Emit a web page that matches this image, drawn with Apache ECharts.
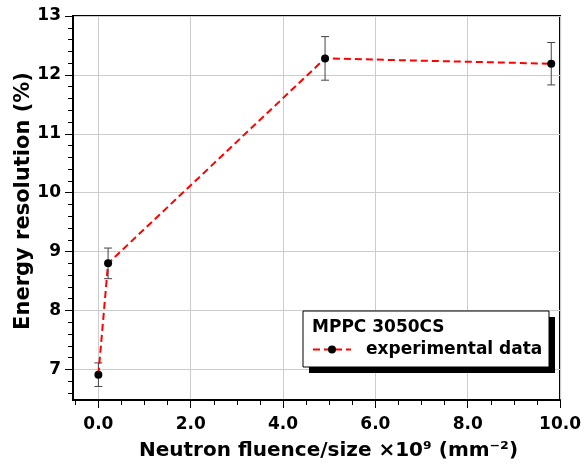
<!DOCTYPE html>
<html><head><meta charset="utf-8">
<script src="https://cdn.jsdelivr.net/npm/echarts@6/dist/echarts.min.js"></script>
<style>html,body{margin:0;padding:0;background:#fff}#c{width:584px;height:466px}</style>
</head><body><div id="c"></div>
<script>
// data
const fluence = [0.0, 0.21, 4.91, 9.81];
const resolution = [6.91, 8.80, 12.28, 12.19];
const errors = [0.20, 0.26, 0.37, 0.36];
const xMajorTicks = [0, 2, 4, 6, 8, 10];
const xMinorTicks = [-0.5, 0.5, 1, 1.5, 2.5, 3, 3.5, 4.5, 5, 5.5, 6.5, 7, 7.5, 8.5, 9, 9.5];
const yMajorTicks = [7, 8, 9, 10, 11, 12, 13];
const yMinorTicks = [6.6, 6.8, 7.2, 7.4, 7.6, 7.8, 8.2, 8.4, 8.6, 8.8, 9.2, 9.4, 9.6, 9.8, 10.2, 10.4, 10.6, 10.8, 11.2, 11.4, 11.6, 11.8, 12.2, 12.4, 12.6, 12.8];
const seriesName = 'experimental data';
const legendTitle = 'MPPC 3050CS';
const xName = 'Neutron fluence/size ×10⁹ (mm⁻²)';
const yName = 'Energy resolution (%)';

const FONT = 'DejaVu Sans';
const xMin = -0.55, xMax = 10.0, yMin = 6.48, yMax = 13.0;

const chart = echarts.init(document.getElementById('c'), null, {renderer: 'canvas'});
const points = fluence.map((x, i) => [x, resolution[i]]);
const errData = fluence.map((x, i) => [x, resolution[i] - errors[i], resolution[i] + errors[i]]);

function hiddenAxis(extra) {
  return Object.assign({
    type: 'value',
    axisLine: {show: false, onZero: false}, splitLine: {show: false},
    axisLabel: {show: false}
  }, extra);
}

const option = {
  animation: false,
  backgroundColor: '#fff',
  grid: {left: 73, right: 22, top: 16, bottom: 65, show: true, borderColor: '#000', borderWidth: 2, backgroundColor: 'transparent'},
  xAxis: [
    {
      type: 'value', min: xMin, max: xMax, splitNumber: 5,
      name: xName, nameLocation: 'middle', nameGap: 41,
      nameTextStyle: {fontFamily: FONT, fontWeight: 'bold', fontSize: 20, color: '#000', padding: [0, 0, 0, 24]},
      axisLine: {show: true, onZero: false, lineStyle: {color: '#000', width: 2}},
      axisTick: {show: false},
      axisLabel: {show: true, customValues: xMajorTicks, formatter: v => v.toFixed(1), fontFamily: FONT, fontWeight: 'bold', fontSize: 17, color: '#000', margin: 16},
      splitLine: {show: true, lineStyle: {color: '#cccccc', width: 1}}
    },
    hiddenAxis({min: xMin, max: xMax, position: 'bottom', axisTick: {show: true, customValues: xMajorTicks, length: 8, lineStyle: {color: '#000', width: 1}}}),
    hiddenAxis({min: xMin, max: xMax, position: 'bottom', axisTick: {show: true, customValues: xMinorTicks, length: 5, lineStyle: {color: '#000', width: 1}}})
  ],
  yAxis: [
    {
      type: 'value', min: yMin, max: yMax, splitNumber: 6,
      axisLine: {show: true, onZero: false, lineStyle: {color: '#000', width: 2}},
      axisTick: {show: false},
      axisLabel: {show: true, customValues: yMajorTicks, formatter: v => String(Math.round(v)), fontFamily: FONT, fontWeight: 'bold', fontSize: 17, color: '#000', margin: 12},
      splitLine: {show: true, lineStyle: {color: '#cccccc', width: 1}}
    },
    hiddenAxis({min: yMin, max: yMax, position: 'left', axisTick: {show: true, customValues: yMajorTicks, length: 8, lineStyle: {color: '#000', width: 1}}}),
    hiddenAxis({min: yMin, max: yMax, position: 'left', axisTick: {show: true, customValues: yMinorTicks, length: 5, lineStyle: {color: '#000', width: 1}}})
  ],
  legend: {
    show: true, left: 312, top: 341, orient: 'vertical', z: 60, padding: 0,
    itemWidth: 38, itemHeight: 10,
    data: [seriesName],
    textStyle: {fontFamily: FONT, fontWeight: 'bold', fontSize: 17, color: '#000', padding: [0, 0, 0, 10]}
  },
  graphic: [
    {type: 'text', x: 24, y: 201, rotation: Math.PI / 2, style: {text: yName, font: 'bold 21px "DejaVu Sans"', fill: '#000', align: 'center', verticalAlign: 'middle'}, z: 10},
    {type: 'rect', shape: {x: 309, y: 317, width: 246, height: 56}, style: {fill: '#000'}, z: 50},
    {type: 'rect', shape: {x: 303, y: 311, width: 246, height: 56}, style: {fill: '#fff', stroke: '#000', lineWidth: 1}, z: 51},
    {type: 'text', x: 312, y: 319, style: {text: legendTitle, font: 'bold 17px "DejaVu Sans"', fill: '#000'}, z: 52}
  ],
  series: [
    {
      name: 'err', type: 'custom', xAxisIndex: 0, yAxisIndex: 0, z: 3,
      data: errData,
      renderItem: function (params, api) {
        const x = api.value(0);
        const lo = api.coord([x, api.value(1)]);
        const hi = api.coord([x, api.value(2)]);
        const hw = 4;
        const st = {stroke: '#444', lineWidth: 1};
        return {type: 'group', children: [
          {type: 'line', shape: {x1: lo[0], y1: lo[1], x2: hi[0], y2: hi[1]}, style: st},
          {type: 'line', shape: {x1: lo[0] - hw, y1: lo[1], x2: lo[0] + hw, y2: lo[1]}, style: st},
          {type: 'line', shape: {x1: hi[0] - hw, y1: hi[1], x2: hi[0] + hw, y2: hi[1]}, style: st}
        ]};
      }
    },
    {
      name: seriesName, type: 'line', xAxisIndex: 0, yAxisIndex: 0, z: 4,
      data: points,
      symbol: 'circle', symbolSize: 8,
      itemStyle: {color: '#000'},
      lineStyle: {color: '#ff0000', width: 2, type: [7, 4]}
    }
  ]
};
chart.setOption(option);
</script></body></html>
